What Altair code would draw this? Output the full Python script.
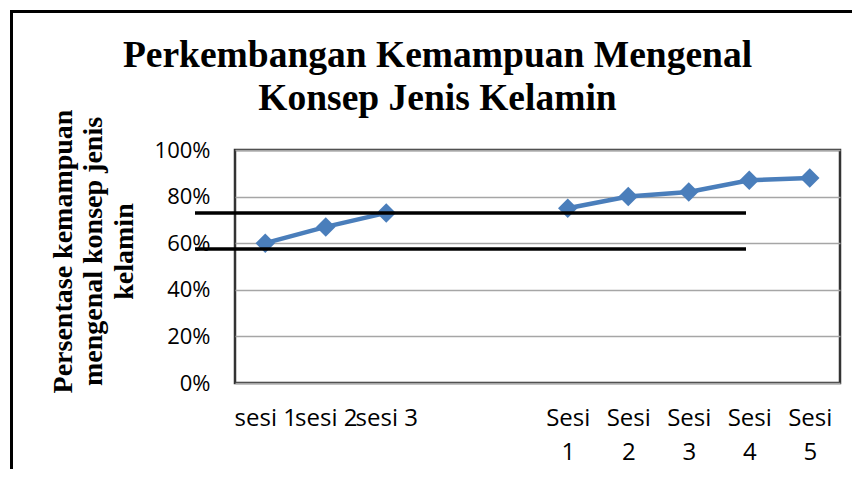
import altair as alt
import pandas as pd

# ---- data ----
categories = ["sesi 1", "sesi 2", "sesi 3", " ", "  ",
              "Sesi 1", "Sesi 2", "Sesi 3", "Sesi 4", "Sesi 5"]
phase_a_labels = ["sesi 1", "sesi 2", "sesi 3"]
phase_a_values = [0.60, 0.67, 0.73]
phase_b_labels = ["Sesi 1", "Sesi 2", "Sesi 3", "Sesi 4", "Sesi 5"]
phase_b_values = [0.75, 0.80, 0.82, 0.87, 0.88]
ref_levels = [0.73, 0.575]
y_ticks = [0, 0.2, 0.4, 0.6, 0.8, 1.0]
title_lines = ["Perkembangan Kemampuan Mengenal", "Konsep Jenis Kelamin"]
y_title_lines = ["Persentase kemampuan", "mengenal konsep jenis", "kelamin"]

df = pd.DataFrame({
    "sesi": phase_a_labels + phase_b_labels,
    "nilai": phase_a_values + phase_b_values,
    "fase": ["A"] * len(phase_a_labels) + ["B"] * len(phase_b_labels),
})
refs = pd.DataFrame({"level": ref_levels})
one = pd.DataFrame({"k": [0]})

W, H = 605, 233
BLUE = "#4a7ebb"

y_scale = alt.Scale(domain=[0, 1], nice=False, zero=True)

x_enc = alt.X(
    "sesi:N",
    scale=alt.Scale(domain=categories, type="point", padding=0.5),
    axis=alt.Axis(
        title=None, labelAngle=0, domain=False, ticks=False, tickSize=0,
        labelPadding=23, labelFont="Open Sans", labelFontSize=24,
        labelColor="#000", labelLineHeight=34.5, labelBaseline="top",
        labelOverlap=False,
        labelExpr="indexof(datum.value, 'Sesi') == 0 ? split(datum.value, ' ') : datum.value",
    ),
)

y_enc = alt.Y(
    "nilai:Q",
    scale=y_scale,
    axis=alt.Axis(
        values=y_ticks, format=".0%", title=y_title_lines,
        titleFont="Liberation Serif", titleFontSize=28, titleFontWeight="bold",
        titleLineHeight=30.5, titleX=-158, titleY=101, titleColor="#000",
        titleAlign="center",
        domain=False, ticks=False, tickSize=0, labelPadding=25,
        labelFont="Open Sans", labelFontSize=22, labelColor="#000",
        grid=True, gridColor="#a6a6a6", gridWidth=1.5,
    ),
)

line = alt.Chart(df).mark_line(
    color=BLUE, strokeWidth=4.5,
    point=alt.OverlayMarkDef(shape="diamond", size=380, filled=True,
                             color=BLUE, opacity=1),
).encode(x=x_enc, y=y_enc, detail="fase:N")

rules = alt.Chart(refs).mark_rule(color="black", strokeWidth=3.5).encode(
    y=alt.Y("level:Q", scale=y_scale),
    x=alt.value(-40), x2=alt.value(511),
)

frame_left = alt.Chart(one).mark_rule(color="black", strokeWidth=3).encode(
    x=alt.value(-223.5), y=alt.value(-140), y2=alt.value(340),
)
frame_top = alt.Chart(one).mark_rule(color="black", strokeWidth=3).encode(
    y=alt.value(-138.5), x=alt.value(-225), x2=alt.value(660),
)

chart = alt.layer(line, rules, frame_left, frame_top).properties(
    width=W, height=H,
    padding={"left": 227, "top": 142, "right": 12, "bottom": 86},
    autosize=alt.AutoSizeParams(type="none"),
    title=alt.TitleParams(
        text=title_lines, font="Liberation Serif", fontSize=37.5,
        fontWeight="bold", lineHeight=43, anchor="middle", frame="group",
        dx=-100, dy=109, offset=0, color="#000",
    ),
    background="white",
).configure_view(stroke="#333333", strokeWidth=2.5)

chart.save("out.html", embed_options={"renderer": "svg", "actions": False})
